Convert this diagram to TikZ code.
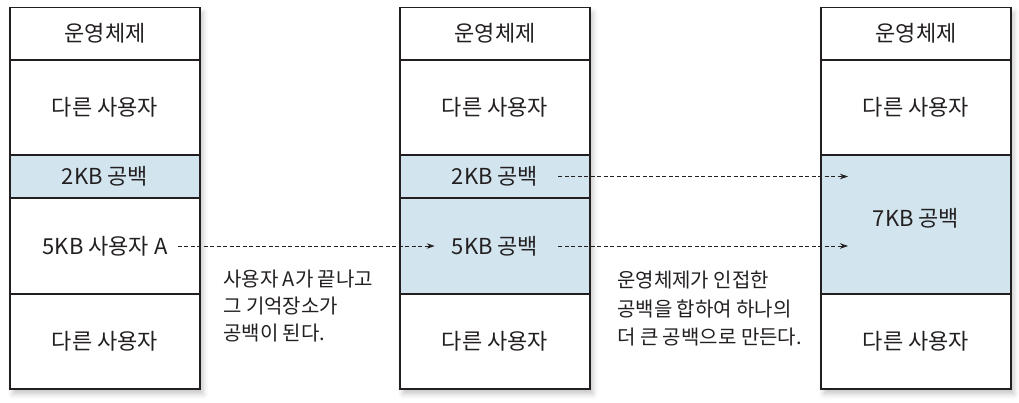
\documentclass[tikz,border=0pt]{standalone}
\usepackage{fontspec}
\setmainfont{Noto Sans CJK KR}
\usetikzlibrary{positioning,arrows.meta,shadows.blur,backgrounds}
\definecolor{holeblue}{RGB}{210,229,238}
\definecolor{ink}{RGB}{35,31,32}
\begin{document}
\begin{tikzpicture}[x=1pt,y=1pt]
	\tikzstyle{cell} = [rectangle,draw=ink,line width=1.8pt,minimum width=190pt,inner sep=0pt,outer sep=0pt,anchor=north]
	\tikzstyle{hole} = [cell,fill=holeblue]
	\tikzstyle{txt} = [inner sep=1pt,text=ink,font=\fontsize{22}{26}\selectfont]
	\tikzstyle{note} = [inner sep=0pt,text=ink,align=left,anchor=north west]
	\tikzstyle{move} = [-{Stealth[length=8pt,width=5.5pt]},ink,line width=0.8pt,dash pattern=on 4pt off 2.5pt]
	\useasboundingbox (0,0) rectangle (1019,403);

		% memory before
		\node[cell,minimum height=52.5pt,anchor=north west](a1) at (10,395.5){};
		\node[cell,minimum height=95pt](a2) at (a1.south){};
		\node[hole,minimum height=43pt](a3) at (a2.south){};
		\node[cell,minimum height=96pt](a4) at (a3.south){};
		\node[cell,minimum height=95pt](a5) at (a4.south){};
		% user A ended
		\node[cell,minimum height=52.5pt,anchor=north west](b1) at (400,395.5){};
		\node[cell,minimum height=95pt](b2) at (b1.south){};
		\node[hole,minimum height=43pt](b3) at (b2.south){};
		\node[hole,minimum height=96pt](b4) at (b3.south){};
		\node[cell,minimum height=95pt](b5) at (b4.south){};
		% holes merged
		\node[cell,minimum height=52.5pt,anchor=north west](c1) at (821,395.5){};
		\node[cell,minimum height=95pt](c2) at (c1.south){};
		\node[hole,minimum height=139pt](c3) at (c2.south){};
		\node[cell,minimum height=95pt](c4) at (c3.south){};

		\begin{scope}[on background layer]
		\foreach \c/\l in {a/5,b/5,c/4}
			\path[fill=white,blur shadow={shadow xshift=3pt,shadow yshift=-5pt,shadow blur radius=5pt,shadow opacity=22}] (\c1.north west) rectangle (\c\l.south east);
		\end{scope}

		\node[txt](ta1) at (a1){운영체제};
		\node[txt](ta2) at (a2){다른 사용자};
		\node[txt](ta3) at (a3){2KB 공백};
		\node[txt](ta4) at (a4){5KB 사용자 A};
		\node[txt](ta5) at (a5){다른 사용자};

		\node[txt](tb1) at (b1){운영체제};
		\node[txt](tb2) at (b2){다른 사용자};
		\node[txt](tb3) at (b3){2KB 공백};
		\node[txt](tb4) at (b4){5KB 공백};
		\node[txt](tb5) at (b5){다른 사용자};

		\node[txt](tc1) at (c1){운영체제};
		\node[txt](tc2) at (c2){다른 사용자};
		\node[txt,yshift=6pt](tc3) at (c3){7KB 공백};
		\node[txt](tc4) at (c4){다른 사용자};

		\node[note,font=\fontsize{20}{27}\selectfont](n1) at (223,133){사용자 A가 끝나고\\그 기억장소가\\공백이 된다.};
		\node[note,font=\fontsize{20}{28.5}\selectfont](n2) at (617,132){운영체제가 인접한\\공백을 합하여 하나의\\더 큰 공백으로 만든다.};

		\path (c3.west |- tb3) ++(27,0) coordinate (e3);
		\path (c3.west |- tb4) ++(27,0) coordinate (e4);

		\draw[move,shorten <=9pt,shorten >=16pt](ta4.east) -- (tb4.west);
		\draw[move,shorten <=19pt](tb3.east) -- (e3);
		\draw[move,shorten <=19pt](tb4.east) -- (e4);
\end{tikzpicture}
\end{document}
